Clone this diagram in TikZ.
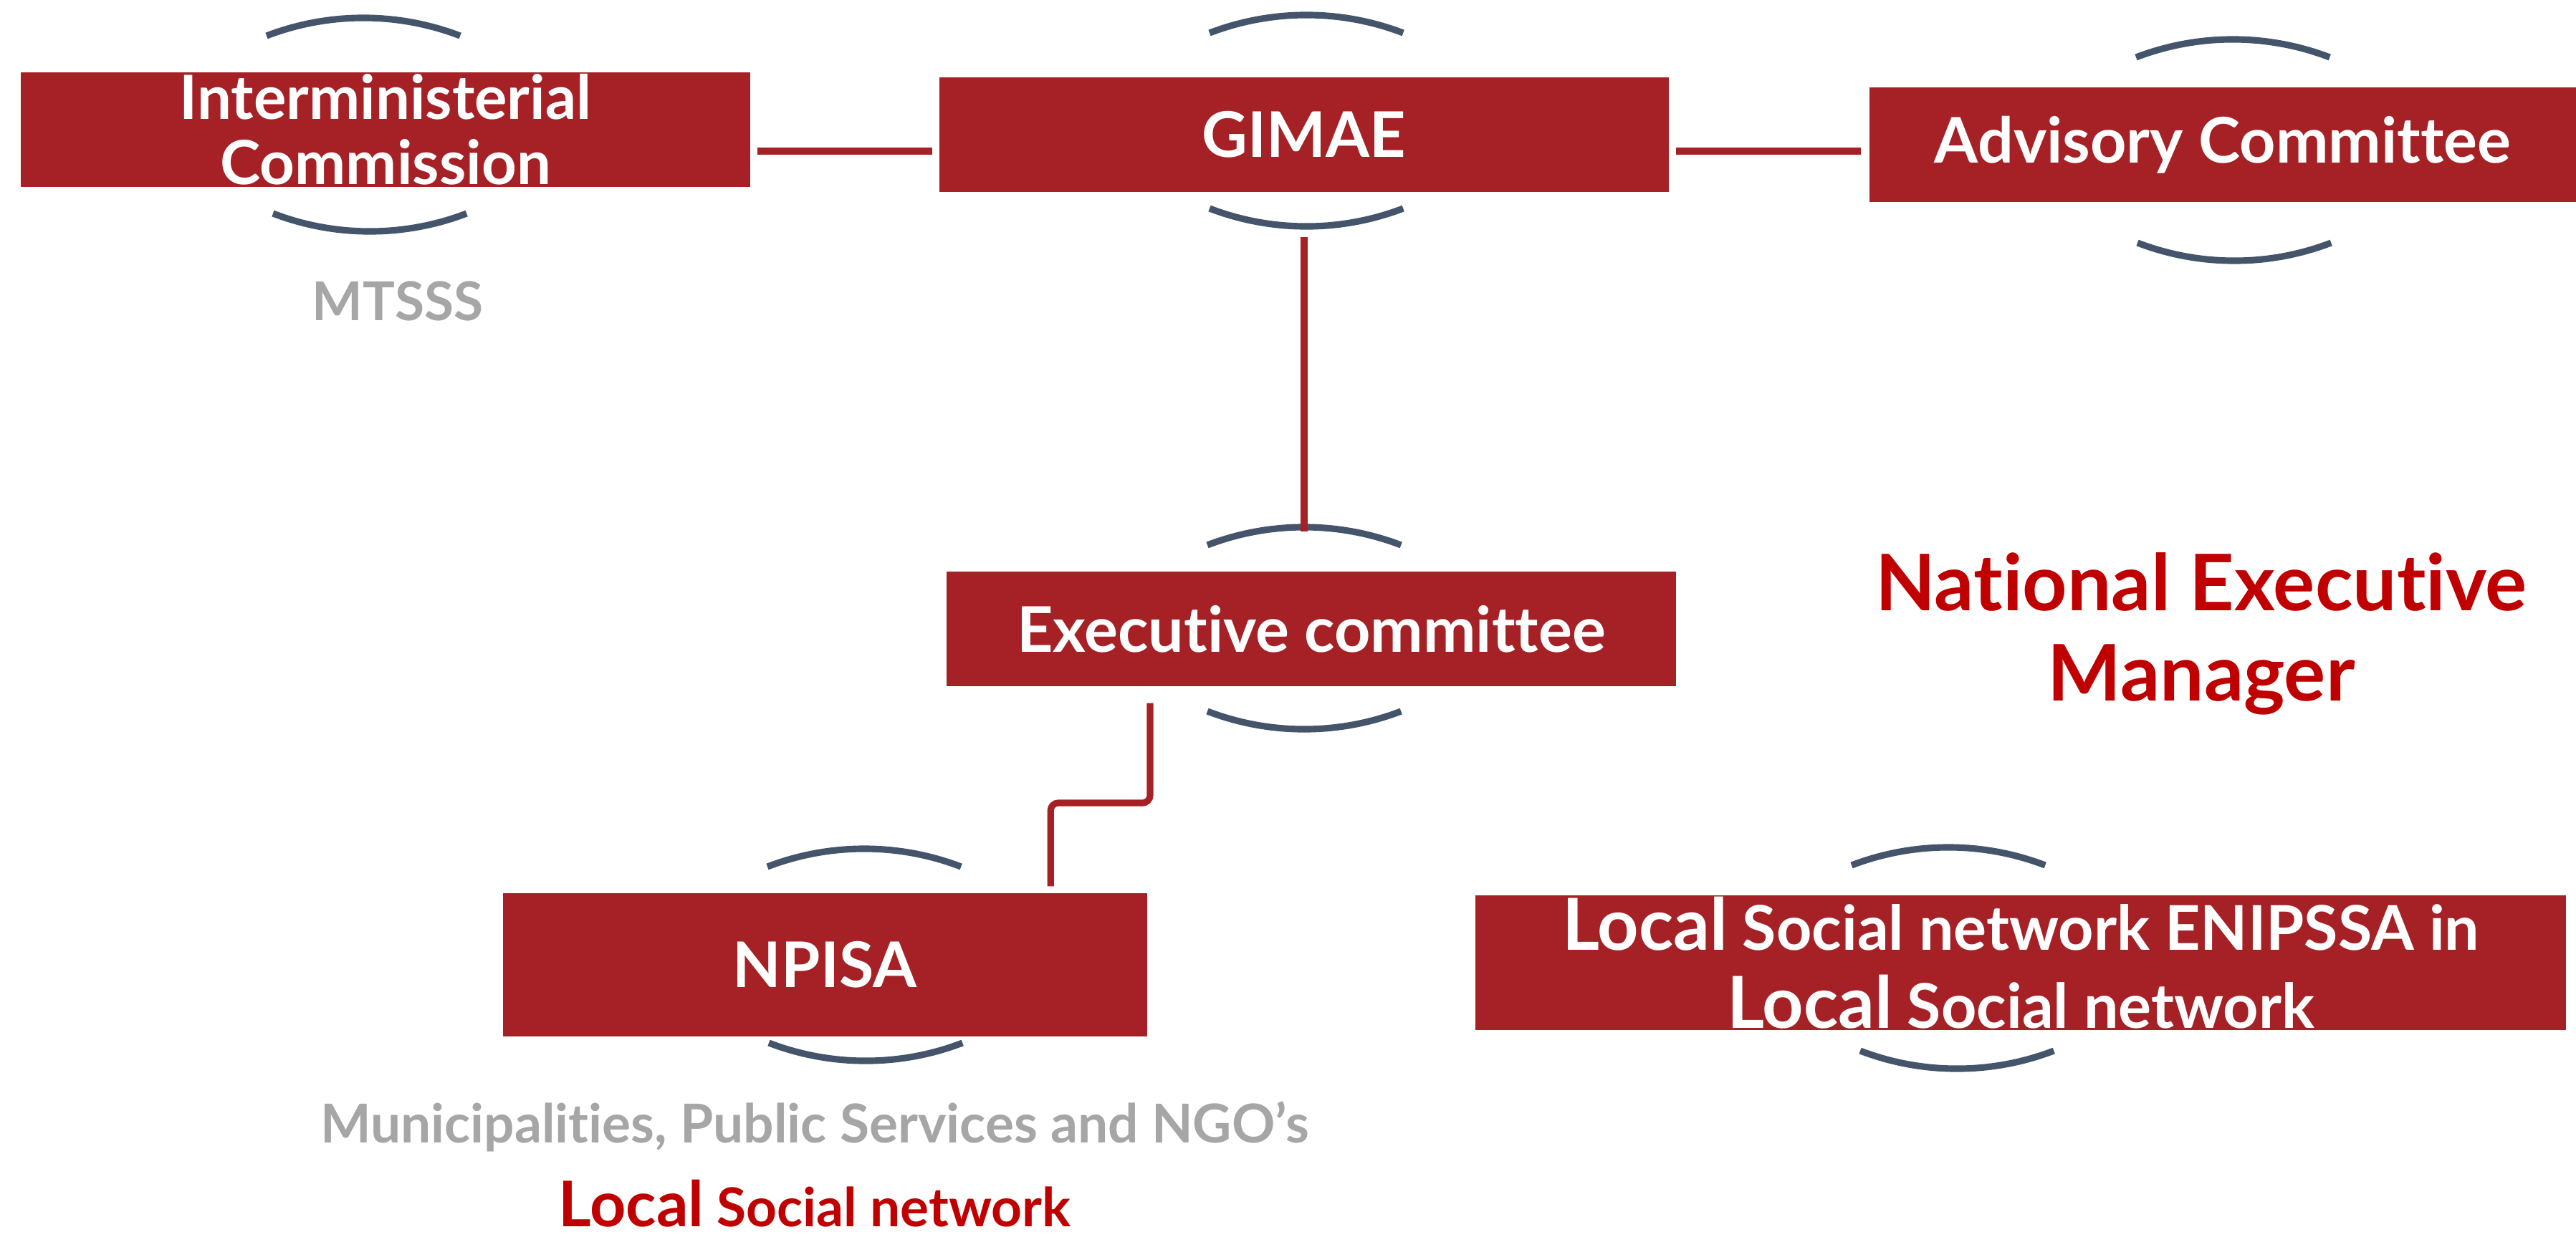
\documentclass[tikz,border=0pt]{standalone}
\usepackage{fontspec}
\setmainfont{Lato}[Ligatures={NoCommon}]
\usetikzlibrary{positioning}
\definecolor{boxred}{HTML}{A52126}
\definecolor{arcgrey}{HTML}{44546A}
\definecolor{notegrey}{HTML}{A6A6A6}
\definecolor{titlered}{HTML}{C00000}
\newcommand{\leadword}[1]{{\fontsize{28.5}{31}\selectfont #1}}

\begin{document}
\begin{tikzpicture}[
  unit/.style={rectangle, fill=boxred, text=white, inner sep=0pt, align=center,
    minimum width=10.18cm, minimum height=1.6cm,
    font=\bfseries\fontsize{25}{27}\selectfont},
  ring/.style={draw=arcgrey, line width=2.6pt},
  link/.style={draw=boxred, line width=2.6pt},
  note/.style={text=notegrey, font=\bfseries\fontsize{21.3}{24}\selectfont}
]
\useasboundingbox (0,0) rectangle (35.95,-17.26);

\node (IC) [unit, font=\bfseries\fontsize{24.2}{26}\selectfont] at (5.38,-1.81) {Interministerial\\Commission};
\node (GIMAE) [unit] at (18.20,-1.88) {GIMAE};
\node (Advisory) [unit, minimum width=9.86cm] at (31.02,-2.02) {Advisory Committee};
\node (Exec) [unit] at (18.30,-8.78) {Executive committee};
\node (NPISA) [unit, minimum width=8.99cm, minimum height=2cm] at (11.51,-13.47) {NPISA};
\node (ENIPSSA) [unit, minimum width=15.22cm, minimum height=1.88cm,
  font=\bfseries\fontsize{24.5}{31}\selectfont] at (28.20,-13.44)
  {\leadword{Local} Social network ENIPSSA in\\\leadword{Local} Social network};

\node (MTSSS) [note] at (5.55,-4.20) {MTSSS};
\node (Partners) [note] at (11.37,-15.73) {Municipalities, Public Services and NGO’s};
\node (LocalNet) [text=titlered, font=\bfseries\fontsize{21.3}{24}\selectfont] at (11.37,-16.80)
  {{\fontsize{25}{28}\selectfont Local} Social network};
\node (Manager) [text=titlered, align=center, font=\bfseries\fontsize{31}{36}\selectfont] at (30.72,-8.85)
  {National Executive\\Manager};

%Arcs above and below the boxes:
\draw[ring] (3.72,-0.50) arc[start angle=111, end angle=69, radius=3.77cm];
\draw[ring] (3.81,-2.98) arc[start angle=249, end angle=291, radius=3.77cm];
\draw[ring] (16.88,-0.46) arc[start angle=111, end angle=69, radius=3.77cm];
\draw[ring] (16.88,-2.91) arc[start angle=249, end angle=291, radius=3.77cm];
\draw[ring] (29.81,-0.80) arc[start angle=111, end angle=69, radius=3.77cm];
\draw[ring] (29.83,-3.39) arc[start angle=249, end angle=291, radius=3.77cm];
\draw[ring] (16.85,-7.61) arc[start angle=111, end angle=69, radius=3.77cm];
\draw[ring] (16.85,-9.93) arc[start angle=249, end angle=291, radius=3.77cm];
\draw[ring] (10.71,-12.10) arc[start angle=111, end angle=69, radius=3.77cm];
\draw[ring] (10.73,-14.56) arc[start angle=249, end angle=291, radius=3.77cm];
\draw[ring] (25.84,-12.08) arc[start angle=111, end angle=69, radius=3.77cm];
\draw[ring] (25.96,-14.67) arc[start angle=249, end angle=291, radius=3.77cm];

%Links:
\draw[link, shorten <=0.09cm, shorten >=0.09cm] ([yshift=-0.3cm]IC.east) -- ([yshift=-0.3cm]IC.east -| GIMAE.west);
\draw[link, shorten <=0.09cm, shorten >=0.11cm] ([yshift=-0.23cm]GIMAE.east) -- ([yshift=-0.23cm]GIMAE.east -| Advisory.west);
\draw[link, shorten <=0.62cm, shorten >=0.55cm] (GIMAE.south) -- (GIMAE.south |- Exec.north);
\coordinate (knee) at (16.05,-11.21);
\draw[link, rounded corners=3pt, shorten <=0.23cm, shorten >=0.09cm]
  (Exec.south -| knee) -- (knee) -| ([xshift=-1.35cm]NPISA.north east);
\end{tikzpicture}
\end{document}
